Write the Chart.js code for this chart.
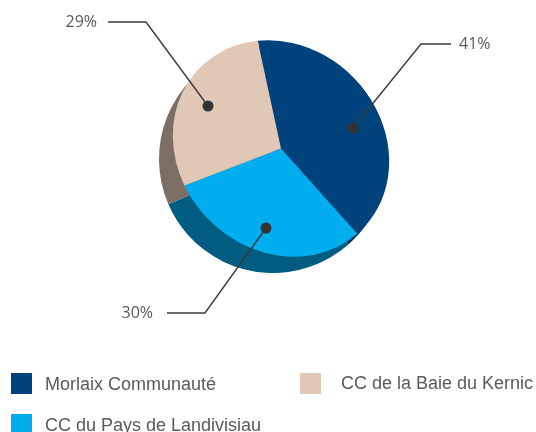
<!DOCTYPE html>
<html>
<head>
<meta charset="utf-8">
<script src="https://cdn.jsdelivr.net/npm/chart.js@4"></script>
<style>
  html, body { margin: 0; padding: 0; background: #fff; overflow: hidden; }
  #wrap { position: relative; width: 536px; height: 432px; overflow: hidden; }
  .key { position: absolute; width: 21px; height: 21px; }
  .key-label { position: absolute; font: 18px "Liberation Sans", Arial, sans-serif; color: #5a5a5a; white-space: nowrap; line-height: 20px; }
</style>
</head>
<body>
<div id="wrap">
  <canvas id="pie-chart" width="536" height="432"></canvas>
</div>
<script>
// clockwise from the top
const categories = ["Morlaix Communauté", "CC du Pays de Landivisiau", "CC de la Baie du Kernic"];
const shares = [41, 30, 29];
const colors = ["#00427c", "#00adee", "#e0c7b6"];
const sideColors = ["#002f5c", "#005c80", "#7d6e64"];

// fake 3d side: a slightly bigger round pie shifted down and left
const depth = { x: -8, y: 10.5, grow: 6.5 };

// the top pie in the picture is a bit stretched along the NW-SE diagonal
const stretch = { m: 1.0045, s: 0.0605 };

// leader lines, relative to the pie centre: dot, elbow, end of line, label
const leaders = [
  { dot: [72, -20.5], elbow: [140, -104.5], end: [170, -104.5], text: [178, -104.5], align: "left" },
  { dot: [-15, 79.5], elbow: [-76, 164.5], end: [-114, 164.5], text: [-128, 164.5], align: "right" },
  { dot: [-73, -42.5], elbow: [-135, -126.5], end: [-173, -126.5], text: [-184, -126.5], align: "right" },
];

// legend slots, same order as categories
const legendSlots = [
  { x: 11, y: 373, textX: 45, textY: 374 },
  { x: 11, y: 414, textX: 45, textY: 415 },
  { x: 300, y: 373, textX: 341, textY: 373 },
];

function applyStretch(ctx, cx, cy) {
  ctx.translate(cx, cy);
  ctx.transform(stretch.m, stretch.s, stretch.s, stretch.m, 0, 0);
  ctx.translate(-cx, -cy);
}

const pieSide = {
  id: "pieSide",
  beforeDatasetsDraw(chart) {
    const ctx = chart.ctx;
    const arcs = chart.getDatasetMeta(0).data;
    ctx.save();
    ctx.translate(depth.x, depth.y);
    arcs.forEach((arc, i) => {
      const p = arc.getProps(["x", "y", "startAngle", "endAngle", "outerRadius"]);
      ctx.beginPath();
      ctx.moveTo(p.x, p.y);
      ctx.arc(p.x, p.y, p.outerRadius + depth.grow, p.startAngle, p.endAngle);
      ctx.closePath();
      ctx.fillStyle = sideColors[i];
      ctx.fill();
    });
    ctx.restore();
    // stays on for the slices, undone in afterDatasetsDraw
    ctx.save();
    applyStretch(ctx, arcs[0].x, arcs[0].y);
  },
  afterDatasetsDraw(chart) {
    chart.ctx.restore();
  },
};

const pieLeaders = {
  id: "pieLeaders",
  afterDatasetsDraw(chart) {
    const ctx = chart.ctx;
    const first = chart.getDatasetMeta(0).data[0];
    const cx = first.x;
    const cy = first.y;
    ctx.save();
    leaders.forEach((l, i) => {
      ctx.strokeStyle = "#3a3a3a";
      ctx.lineWidth = 1.4;
      ctx.beginPath();
      ctx.moveTo(cx + l.dot[0], cy + l.dot[1]);
      ctx.lineTo(cx + l.elbow[0], cy + l.elbow[1]);
      ctx.lineTo(cx + l.end[0], cy + l.end[1]);
      ctx.stroke();
      ctx.fillStyle = "#333333";
      ctx.beginPath();
      ctx.arc(cx + l.dot[0], cy + l.dot[1], 5.5, 0, Math.PI * 2);
      ctx.fill();
      ctx.fillStyle = "#5a5a5a";
      ctx.font = '16px "Open Sans", sans-serif';
      ctx.textAlign = l.align;
      ctx.textBaseline = "middle";
      ctx.fillText(shares[i] + "%", cx + l.text[0], cy + l.text[1]);
    });
    ctx.restore();
  },
};

const ctx = document.getElementById("pie-chart");
ctx.style.display = "block";

new Chart(ctx, {
  type: "pie",
  data: {
    labels: categories,
    datasets: [
      {
        data: shares,
        backgroundColor: colors,
        borderWidth: 0,
      },
    ],
  },
  options: {
    responsive: false,
    animation: false,
    rotation: -9,
    layout: { padding: { left: 173.5, top: 41, right: 147.5, bottom: 176 } },
    plugins: {
      legend: { display: false },
      tooltip: { enabled: false },
    },
  },
  plugins: [pieSide, pieLeaders],
});

// html legend
const wrap = document.getElementById("wrap");
categories.forEach((name, i) => {
  const slot = legendSlots[i];
  const key = document.createElement("div");
  key.className = "key";
  key.style.left = slot.x + "px";
  key.style.top = slot.y + "px";
  key.style.background = colors[i];
  wrap.appendChild(key);
  const label = document.createElement("div");
  label.className = "key-label";
  label.style.left = slot.textX + "px";
  label.style.top = slot.textY + "px";
  label.textContent = name;
  wrap.appendChild(label);
});
</script>
</body>
</html>
